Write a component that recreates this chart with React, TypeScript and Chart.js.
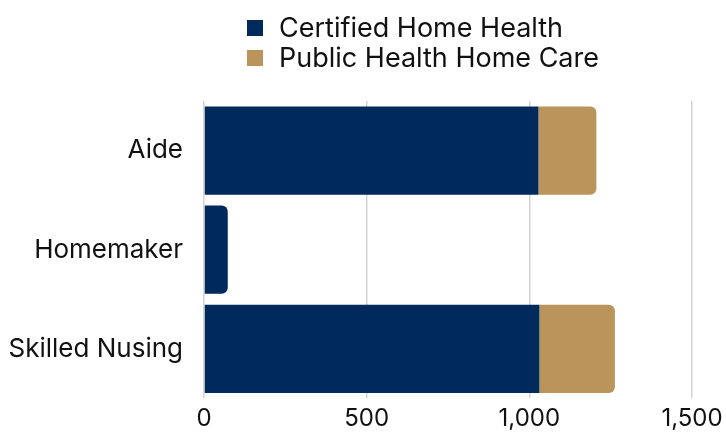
import React, { useEffect, useRef } from "react";
import { Chart, registerables } from "chart.js";

Chart.register(...registerables);

const categories = ["Aide", "Homemaker", "Skilled Nusing"];
const seriesNames = ["Certified Home Health", "Public Health Home Care"];
const certifiedHomeHealth = [1028, 73, 1031];
const publicHealthHomeCare = [178, 0, 232];
const xTicks = [0, 500, 1000, 1500];

const NAVY = "#002A5C";
const TAN = "#BB945B";
const FONT = "Inter, 'Open Sans', sans-serif";

export default function App() {
  const ref = useRef<HTMLCanvasElement | null>(null);

  useEffect(() => {
    document.body.style.margin = "0";
    document.body.style.overflow = "hidden";
    if (!ref.current) return;
    const chart = new Chart(ref.current, {
      type: "bar",
      data: {
        labels: categories,
        datasets: [
          {
            label: seriesNames[0],
            data: certifiedHomeHealth,
            backgroundColor: NAVY,
            borderRadius: 6,
            borderSkipped: "start",
            barPercentage: 0.89,
            categoryPercentage: 1,
          },
          {
            label: seriesNames[1],
            data: publicHealthHomeCare,
            backgroundColor: TAN,
            borderRadius: 6,
            borderSkipped: "start",
            barPercentage: 0.89,
            categoryPercentage: 1,
          },
        ],
      },
      options: {
        indexAxis: "y",
        responsive: false,
        animation: false,
        layout: { padding: { left: 8, top: 101, right: 34, bottom: 0 } },
        plugins: { legend: { display: false }, tooltip: { enabled: false } },
        scales: {
          x: {
            stacked: true,
            min: xTicks[0],
            max: xTicks[xTicks.length - 1],
            afterBuildTicks: (scale: any) => {
              scale.ticks = xTicks.map((v) => ({ value: v }));
            },
            afterFit: (scale: any) => {
              scale.height = 34;
              scale.paddingLeft = 0;
              scale.paddingRight = 0;
            },
            grid: { color: "#d4d4d4", lineWidth: 1.5, drawTicks: false },
            border: { display: false },
            ticks: {
              padding: 6,
              color: "#111",
              font: { family: FONT, size: 24 },
            },
          },
          y: {
            stacked: true,
            afterFit: (scale: any) => {
              scale.width = 196;
            },
            grid: { display: false, drawTicks: false },
            border: { display: false },
            ticks: {
              padding: 21,
              color: "#111",
              font: { family: FONT, size: 26 },
            },
          },
        },
      },
    });
    return () => chart.destroy();
  }, []);

  const legendColors = [NAVY, TAN];

  return (
    <div style={{ position: "relative", width: 726, height: 435, background: "#fff" }}>
      <canvas ref={ref} width={726} height={435} style={{ display: "block" }} />
      <div
        style={{
          position: "absolute",
          left: 247,
          top: 13,
          fontFamily: FONT,
          fontSize: 27,
          color: "#111",
        }}
      >
        {seriesNames.map((name, i) => (
          <div key={name} style={{ display: "flex", alignItems: "center", height: 30 }}>
            <span
              style={{
                display: "inline-block",
                width: 16,
                height: 16,
                background: legendColors[i],
                marginRight: 16,
              }}
            />
            <span style={{ lineHeight: "30px" }}>{name}</span>
          </div>
        ))}
      </div>
    </div>
  );
}
